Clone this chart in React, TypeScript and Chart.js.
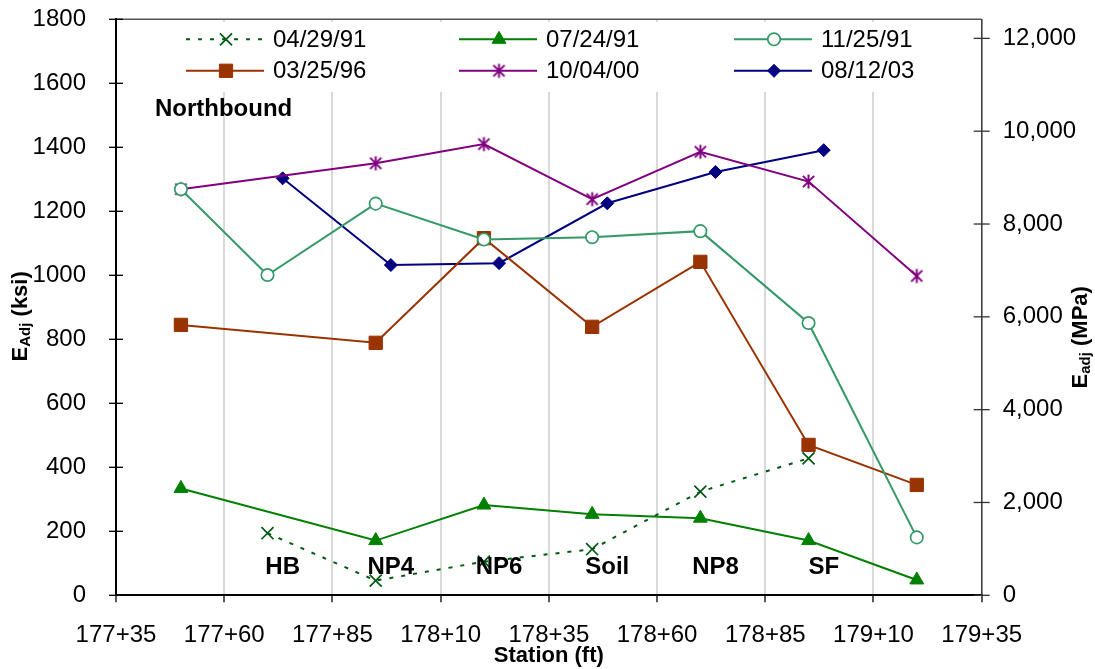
import React, { useEffect, useRef } from 'react';
import { Chart, registerables } from 'chart.js';
import { drawPoint } from 'chart.js/helpers';

Chart.register(...registerables);

const FONT = '"Liberation Sans", Arial, sans-serif';
const KSI_TO_MPA = 6.895;

// ---- Axis definitions ----
const stationTicks = [17735, 17760, 17785, 17810, 17835, 17860, 17885, 17910, 17935];
const ksiMax = 1800;
const ksiStep = 200;
const mpaTicks = [0, 2000, 4000, 6000, 8000, 10000, 12000];

// ---- Series (station in ft, E_adj in ksi) ----
const seriesNames = ['04/29/91', '07/24/91', '11/25/91', '03/25/96', '10/04/00', '08/12/03'];

const apr91Station = [17770, 17795, 17820, 17845, 17870, 17895];
const apr91E = [194, 46, 105, 144, 324, 428];

const jul91Station = [17750, 17795, 17820, 17845, 17870, 17895, 17920];
const jul91E = [334, 171, 282, 253, 241, 171, 48];

const nov91Station = [17750, 17770, 17795, 17820, 17845, 17870, 17895, 17920];
const nov91E = [1269, 1001, 1224, 1112, 1119, 1138, 851, 181];

const mar96Station = [17750, 17795, 17820, 17845, 17870, 17895, 17920];
const mar96E = [845, 789, 1116, 839, 1042, 470, 345];

const oct00Station = [17750, 17795, 17820, 17845, 17870, 17895, 17920];
const oct00E = [1269, 1350, 1410, 1238, 1386, 1293, 998];

const aug03Station = [17773.5, 17798.5, 17823.5, 17848.5, 17873.5, 17898.5];
const aug03E = [1303, 1032, 1038, 1225, 1323, 1391];

// ---- Annotations ----
const siteLabels = ['HB', 'NP4', 'NP6', 'Soil', 'NP8', 'SF'];
const siteStations = [17773.5, 17798.5, 17823.5, 17848.5, 17873.5, 17898.5];
const siteLabelE = 88;
const panelLabel = 'Northbound';
const panelStation = 17744;
const panelE = 1520;

const fmtStation = (v: number) => `${Math.floor(v / 100)}+${String(Math.round(v % 100)).padStart(2, '0')}`;

function makeAsterisk(color: string) {
  const size = 17;
  const c = document.createElement('canvas');
  c.width = size;
  c.height = size;
  const g = c.getContext('2d')!;
  g.strokeStyle = color;
  g.lineWidth = 2;
  const m = size / 2;
  const r = 7;
  g.beginPath();
  g.moveTo(m, m - r);
  g.lineTo(m, m + r);
  const d = r * 0.8;
  g.moveTo(m - d, m - d);
  g.lineTo(m + d, m + d);
  g.moveTo(m - d, m + d);
  g.lineTo(m + d, m - d);
  g.stroke();
  return c;
}

export default function App() {
  const ref = useRef<HTMLCanvasElement>(null);

  useEffect(() => {
    document.body.style.margin = '0';
    const canvas = ref.current!;
    const asterisk = makeAsterisk('#800080');

    const styles = [
      { color: '#005a12', fill: 'transparent', pointStyle: 'crossRot', radius: 8.5, bw: 1.7, dash: [4, 8] },
      { color: '#008000', fill: '#008000', pointStyle: 'triangle', radius: 8, bw: 1, dash: [] },
      { color: '#339966', fill: '#ffffff', pointStyle: 'circle', radius: 6.2, bw: 1.7, dash: [] },
      { color: '#993300', fill: '#993300', pointStyle: 'rect', radius: 9.4, bw: 1, dash: [] },
      { color: '#800080', fill: '#800080', pointStyle: asterisk as any, radius: 8, bw: 1, dash: [] },
      { color: '#000080', fill: '#000080', pointStyle: 'rectRot', radius: 6.5, bw: 1, dash: [] },
    ];
    const stations = [apr91Station, jul91Station, nov91Station, mar96Station, oct00Station, aug03Station];
    const values = [apr91E, jul91E, nov91E, mar96E, oct00E, aug03E];

    const datasets = seriesNames.map((name, i) => ({
      label: name,
      data: stations[i].map((x, j) => ({ x, y: values[i][j] })),
      borderColor: styles[i].color,
      backgroundColor: styles[i].fill,
      borderWidth: 2,
      borderDash: styles[i].dash,
      pointStyle: styles[i].pointStyle,
      pointRadius: styles[i].radius,
      pointBorderColor: styles[i].color,
      pointBackgroundColor: styles[i].fill,
      pointBorderWidth: styles[i].bw,
      tension: 0,
      yAxisID: 'y',
    }));

    const decor = {
      id: 'decor',
      beforeDatasetsDraw(chart: any) {
        const { ctx, chartArea: a } = chart;
        ctx.save();
        // legend background
        ctx.fillStyle = '#ffffff';
        ctx.fillRect(a.left + 55, a.top + 2.5, 755, 70);
        const colX = [70, 343, 618];
        const rowY = [20, 51.5];
        seriesNames.forEach((name, i) => {
          const col = i % 3;
          const row = Math.floor(i / 3);
          const x0 = a.left + colX[col];
          const y = a.top + rowY[row];
          const st = styles[i];
          ctx.strokeStyle = st.color;
          ctx.lineWidth = 2;
          ctx.setLineDash(st.dash);
          ctx.beginPath();
          ctx.moveTo(x0, y);
          ctx.lineTo(x0 + 78, y);
          ctx.stroke();
          ctx.setLineDash([]);
          const cx = x0 + 40;
          if (typeof st.pointStyle !== 'string') {
            const img = st.pointStyle as HTMLCanvasElement;
            ctx.drawImage(img, cx - img.width / 2, y - img.height / 2);
          } else {
            ctx.fillStyle = st.fill;
            ctx.strokeStyle = st.color;
            ctx.lineWidth = st.bw;
            drawPoint(ctx, { pointStyle: st.pointStyle, radius: st.radius, borderWidth: st.bw, rotation: 0 } as any, cx, y);
          }
          ctx.fillStyle = '#000';
          ctx.font = `24px ${FONT}`;
          ctx.textAlign = 'left';
          ctx.textBaseline = 'middle';
          ctx.fillText(name, x0 + 87, y + 1);
        });
        ctx.restore();
      },
      afterDraw(chart: any) {
        const { ctx, chartArea: a, scales } = chart;
        const xs = scales.x;
        const ys = scales.y;
        const y2 = scales.y2;
        ctx.save();
        // top border
        ctx.strokeStyle = '#555';
        ctx.lineWidth = 1.5;
        ctx.beginPath();
        ctx.moveTo(a.left, a.top);
        ctx.lineTo(a.right, a.top);
        ctx.stroke();
        // tick marks crossing the y axes
        ctx.strokeStyle = '#000';
        ctx.lineWidth = 1.3;
        ys.ticks.forEach((t: any) => {
          const p = ys.getPixelForValue(t.value);
          ctx.beginPath();
          ctx.moveTo(a.left - 7, p);
          ctx.lineTo(a.left + 7, p);
          ctx.stroke();
        });
        ctx.strokeStyle = '#333';
        y2.ticks.forEach((t: any) => {
          const p = y2.getPixelForValue(t.value);
          ctx.beginPath();
          ctx.moveTo(a.right - 8, p);
          ctx.lineTo(a.right + 8, p);
          ctx.stroke();
        });
        // site labels
        ctx.fillStyle = '#000';
        ctx.font = `bold 24px ${FONT}`;
        ctx.textAlign = 'center';
        ctx.textBaseline = 'middle';
        siteLabels.forEach((s, i) => {
          ctx.fillText(s, xs.getPixelForValue(siteStations[i]), ys.getPixelForValue(siteLabelE));
        });
        // panel label
        ctx.textAlign = 'left';
        ctx.fillText(panelLabel, xs.getPixelForValue(panelStation), ys.getPixelForValue(panelE));
        // x title
        ctx.font = `bold 22px ${FONT}`;
        ctx.textAlign = 'center';
        ctx.fillText('Station (ft)', (a.left + a.right) / 2, a.bottom + 61);
        // y titles with subscripts
        const drawSubTitle = (cx: number, cy: number, main: string, sub: string, rest: string) => {
          ctx.save();
          ctx.translate(cx, cy);
          ctx.rotate(-Math.PI / 2);
          const big = `bold 22px ${FONT}`;
          const small = `bold 15px ${FONT}`;
          ctx.font = big;
          const w1 = ctx.measureText(main).width;
          const w3 = ctx.measureText(rest).width;
          ctx.font = small;
          const w2 = ctx.measureText(sub).width;
          let x = -(w1 + w2 + w3) / 2;
          ctx.textAlign = 'left';
          ctx.textBaseline = 'middle';
          ctx.font = big;
          ctx.fillText(main, x, 0);
          x += w1;
          ctx.font = small;
          ctx.fillText(sub, x, 5);
          x += w2;
          ctx.font = big;
          ctx.fillText(rest, x, 0);
          ctx.restore();
        };
        drawSubTitle(a.left - 95, (a.top + a.bottom) / 2 + 9, 'E', 'Adj', ' (ksi)');
        drawSubTitle(a.right + 99, (a.top + a.bottom) / 2 + 30, 'E', 'adj', ' (MPa)');
        ctx.restore();
      },
    };

    const chart = new Chart(canvas, {
      type: 'line',
      data: { datasets: datasets as any },
      plugins: [decor as any],
      options: {
        animation: false,
        responsive: false,
        devicePixelRatio: 1,
        layout: { padding: { top: 19.3, left: 0, right: 0, bottom: 0 } },
        plugins: { legend: { display: false }, tooltip: { enabled: false } },
        scales: {
          x: {
            type: 'linear',
            min: stationTicks[0],
            max: stationTicks[stationTicks.length - 1],
            afterBuildTicks: (s: any) => {
              s.ticks = stationTicks.map((v) => ({ value: v }));
            },
            afterFit: (s: any) => {
              s.height = 669 - 595.3;
            },
            ticks: {
              autoSkip: false,
              maxRotation: 0,
              padding: 19,
              color: '#000',
              font: { family: FONT, size: 24 },
              callback: (v: any) => fmtStation(Number(v)),
            },
            grid: {
              color: '#d9d9d9',
              lineWidth: 2,
              drawTicks: true,
              tickLength: 7,
              tickColor: '#000',
              tickWidth: 1.3,
            },
            border: { color: '#000', width: 2 },
          },
          y: {
            type: 'linear',
            position: 'left',
            min: 0,
            max: ksiMax,
            afterFit: (s: any) => {
              s.width = 116;
            },
            ticks: {
              stepSize: ksiStep,
              padding: 0,
              color: '#000',
              font: { family: FONT, size: 24 },
              callback: (v: any) => String(v),
            },
            grid: {
              drawOnChartArea: false,
              drawTicks: true,
              tickLength: 30,
              tickColor: 'rgba(0,0,0,0)',
              color: 'rgba(0,0,0,0)',
            },
            border: { color: '#000', width: 2 },
          },
          y2: {
            type: 'linear',
            position: 'right',
            min: 0,
            max: ksiMax * KSI_TO_MPA,
            afterBuildTicks: (s: any) => {
              s.ticks = mpaTicks.map((v) => ({ value: v }));
            },
            afterFit: (s: any) => {
              s.width = 1095 - 981.7;
            },
            ticks: {
              padding: 0,
              color: '#000',
              font: { family: FONT, size: 24 },
              callback: (v: any) => Number(v).toLocaleString('en-US'),
            },
            grid: {
              drawOnChartArea: false,
              drawTicks: true,
              tickLength: 21,
              tickColor: 'rgba(0,0,0,0)',
              color: 'rgba(0,0,0,0)',
            },
            border: { color: '#404040', width: 1.5 },
          },
        },
      } as any,
    });

    return () => chart.destroy();
  }, []);

  return <canvas ref={ref} width={1095} height={669} style={{ display: 'block' }} />;
}
